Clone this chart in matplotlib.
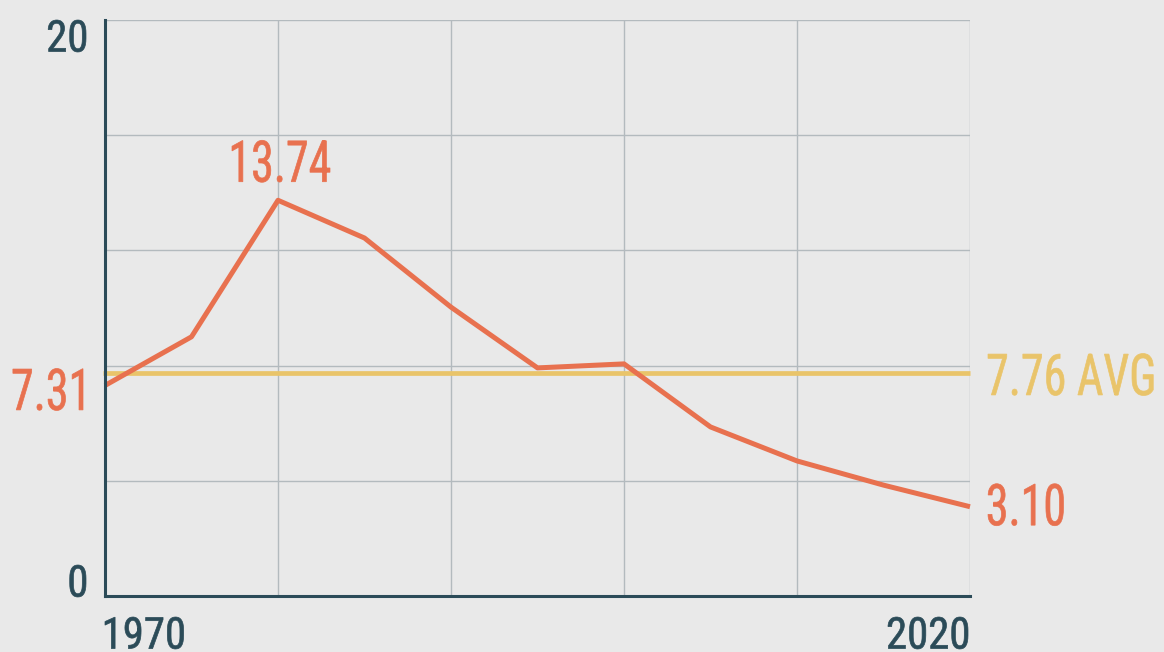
import matplotlib
matplotlib.use('Agg')
import matplotlib.pyplot as plt
from matplotlib import font_manager
from matplotlib.textpath import TextPath
from matplotlib.patches import PathPatch
from matplotlib.transforms import Affine2D, IdentityTransform

# data
years = [1970, 1975, 1980, 1985, 1990, 1995, 2000, 2005, 2010, 2015, 2020]
values = [7.31, 9.0, 13.74, 12.43, 10.03, 7.92, 8.06, 5.87, 4.69, 3.85, 3.10]
avg = 7.76
yticks = [0, 20]

bg = '#e9e9e9'
dark = '#2b4b58'
orange = '#e8714f'
yellow = '#e9c46a'
gridc = '#b3babe'

W, H = 1164, 652
names = {f.name for f in font_manager.fontManager.ttflist}
fam = 'DejaVu Sans'
for cand in ['Roboto Condensed', 'Roboto', 'Liberation Sans Narrow']:
    if cand in names:
        fam = cand
        break
prop = font_manager.FontProperties(family=fam)

fig = plt.figure(figsize=(W/100, H/100), dpi=100, facecolor=bg)
ax = fig.add_axes([105/W, 56/H, 865/W, 576/H])
ax.set_facecolor(bg)

ax.set_xlim(1970, 2020)
ax.set_ylim(0, 20)
ax.set_xticks([1980, 1990, 2000, 2010, 2020])
ax.set_yticks([4, 8, 12, 16, 20])
ax.grid(True, color=gridc, lw=1)
ax.tick_params(length=0, labelbottom=False, labelleft=False)
for s in ['top', 'right']:
    ax.spines[s].set_visible(False)
for s in ['left', 'bottom']:
    ax.spines[s].set_color(dark)
    ax.spines[s].set_linewidth(2.2)
    ax.spines[s].set_zorder(5)

ax.plot([1969.9, 2020], [avg, avg], color=yellow, lw=3.4, zorder=3, clip_on=False,
        solid_capstyle='butt')
ax.plot(years, values, color=orange, lw=3.6, zorder=4, clip_on=False,
        solid_capstyle='butt')

# condensed text: draw glyph outlines squeezed horizontally
ref = TextPath((0, 0), '0123456789', size=100, prop=prop).get_extents()
digit_h = ref.height
ex = TextPath((0, 0), '13.74', size=100, prop=prop).get_extents()
ex2 = TextPath((0, 0), '2020', size=100, prop=prop).get_extents()
# "13.74" in the reference is about 98 px wide for 42 px tall digits,
# "2020" about 80 px wide for 32 px tall digits
sq_lab = (98 / 42.0) / (ex.width / digit_h)
sq_tick = (80 / 32.0) / (ex2.width / digit_h)


def ctext(s, x, y, cap, color, ha='left', va='bottom', squeeze=sq_lab):
    # x, y in pixels (display coords); cap = digit height in pixels
    tp = TextPath((0, 0), s, size=100, prop=prop)
    k = cap / digit_h
    bb = tp.get_extents()
    w = bb.width * k * squeeze
    x0 = {'left': x, 'right': x - w, 'center': x - w / 2}[ha]
    y0 = {'bottom': y, 'top': y - cap, 'center': y - cap / 2}[va]
    tr = Affine2D().translate(-bb.x0, -ref.y0).scale(k * squeeze, k).translate(x0, y0)
    fig.add_artist(PathPatch(tr.transform_path(tp), facecolor=color, edgecolor=color,
                             lw=0.5, transform=IdentityTransform()))


def px(x, y):
    return ax.transData.transform((x, y))


tcap = 32
lcap = 42
# axis labels
xl, yt = px(1970, yticks[1])
ctext(str(yticks[1]), xl - 19, yt, tcap, dark, 'right', 'top', sq_tick)
xl, yb = px(1970, yticks[0])
ctext(str(yticks[0]), xl - 19, yb - 1, tcap, dark, 'right', 'bottom', sq_tick)
ctext(str(years[0]), xl, yb - 21, tcap, dark, 'left', 'top', sq_tick)
xr, _ = px(years[-1], 0)
ctext(str(years[-1]), xr - 2, yb - 21, tcap, dark, 'right', 'top', sq_tick)

# value labels
p = px(years[0], values[0])
ctext('%.2f' % values[0], p[0] - 22, p[1] - 4, lcap, orange, 'right', 'center')
p = px(years[-1], values[-1])
ctext('%.2f' % values[-1], p[0] + 18, p[1] + 2, lcap, orange, 'left', 'center')
p = px(years[-1], avg)
ctext('%.2f AVG' % avg, p[0] + 18, p[1] - 2, lcap, yellow, 'left', 'center')
imax = values.index(max(values))
p = px(years[imax], values[imax])
ctext('%.2f' % values[imax], p[0] + 3, p[1] + 18, lcap, orange, 'center', 'bottom')

fig.savefig('out.png', dpi=100, facecolor=bg)
